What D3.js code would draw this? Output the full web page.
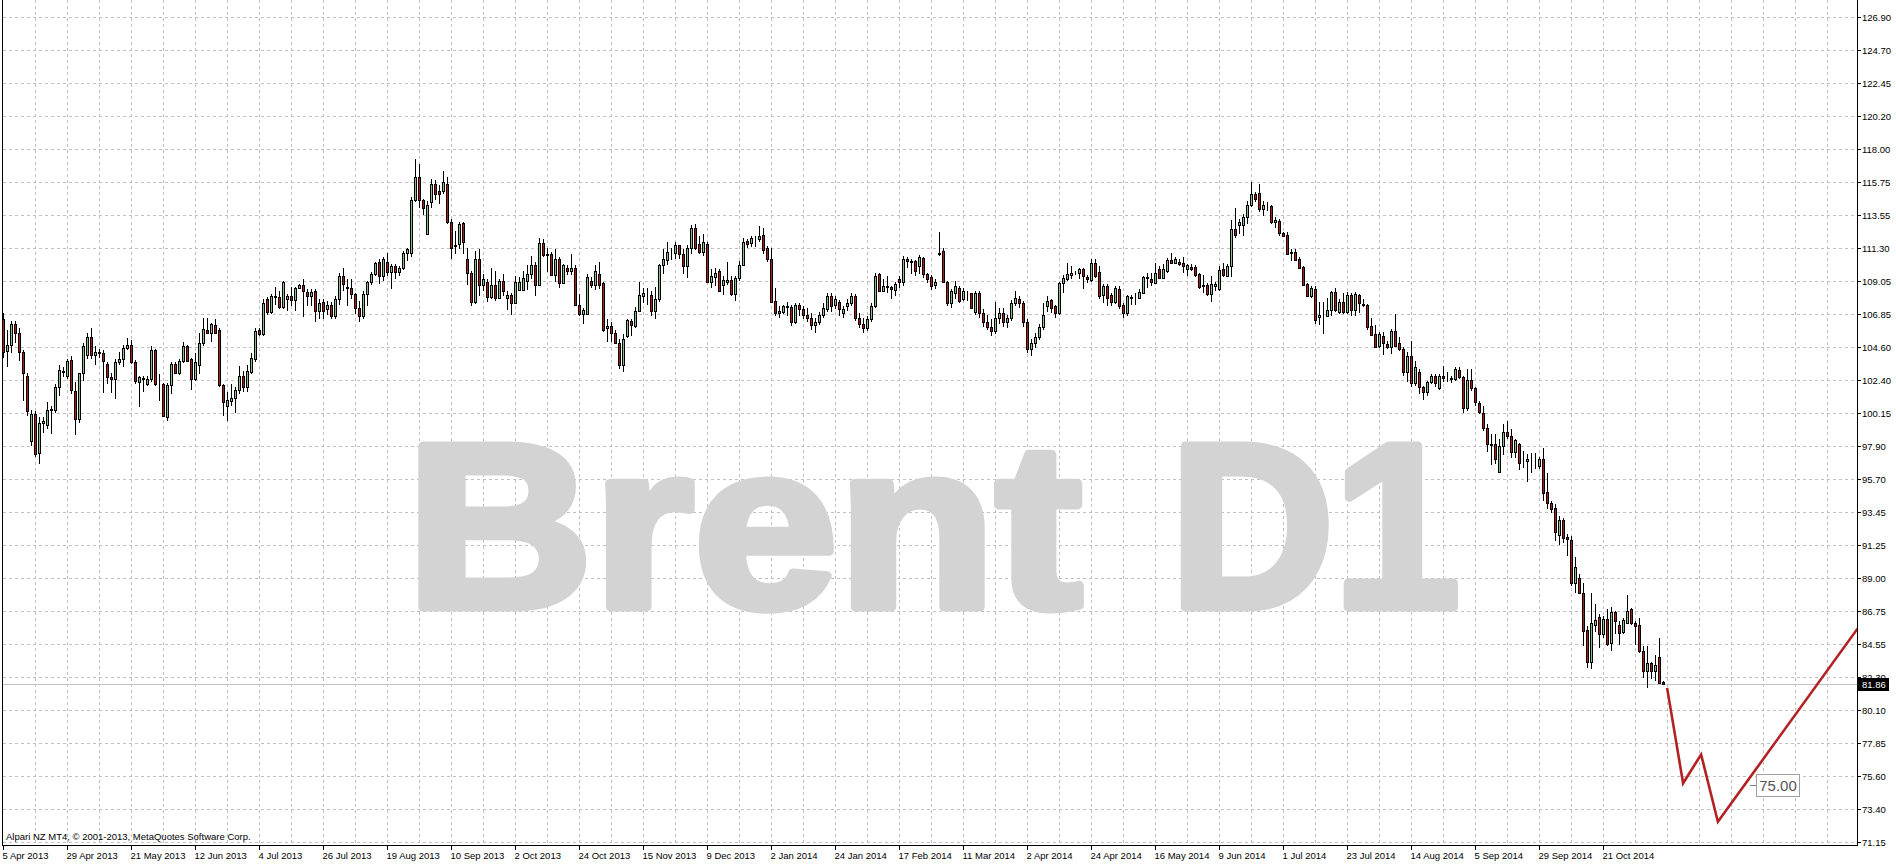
<!DOCTYPE html>
<html>
<head>
<meta charset="utf-8">
<script src="https://cdn.jsdelivr.net/npm/d3@7"></script>
<style>
html, body { margin: 0; padding: 0; background: #fff; overflow: hidden; }
svg { display: block; }
</style>
</head>
<body>
<svg id="chart" width="1896" height="864"></svg>
<script>
// date labels on the time axis, one every 16 bars
var tickLabels = ["5 Apr 2013", "29 Apr 2013", "21 May 2013", "12 Jun 2013", "4 Jul 2013", "26 Jul 2013",
	"19 Aug 2013", "10 Sep 2013", "2 Oct 2013", "24 Oct 2013", "15 Nov 2013", "9 Dec 2013", "2 Jan 2014",
	"24 Jan 2014", "17 Feb 2014", "11 Mar 2014", "2 Apr 2014", "24 Apr 2014", "16 May 2014", "9 Jun 2014",
	"1 Jul 2014", "23 Jul 2014", "14 Aug 2014", "5 Sep 2014", "29 Sep 2014", "21 Oct 2014"];
var barsPerLabel = 16;

// price scale labels
var priceTicks = [126.90, 124.70, 122.45, 120.20, 118.00, 115.75, 113.55, 111.30, 109.05, 106.85, 104.60,
	102.40, 100.15, 97.90, 95.70, 93.45, 91.25, 89.00, 86.75, 84.55, 82.30, 80.10, 77.85, 75.60, 73.40, 71.15];

// daily Brent candles
var openP = [
	106.5,104.37,104.75,106.2,105.6,104.3,102.7,98.3,100.1,97.45,
	99.5,99.35,100.35,100.4,101.9,103.0,102.7,103.75,101.65,99.8,
	102.85,104.1,105.3,104.1,104.2,104.2,103.5,102.6,102.5,103.6,
	103.8,104.6,104.75,103.6,102.3,102.55,102.1,102.5,104.4,102.15,
	102.1,99.9,102.05,103.5,102.9,103.7,104.7,103.8,102.5,103.4,
	104.9,105.75,105.55,106.1,105.8,102.05,100.65,101.0,101.2,101.75,
	102.7,101.95,102.95,103.85,105.8,105.5,107.88,107.02,108.0,107.98,
	107.36,107.9,108.05,107.8,108.6,108.8,108.35,108.1,108.4,107.1,
	107.65,107.2,107.5,106.75,107.88,109.4,108.7,108.6,108.2,107.3,
	106.75,108.2,109.0,109.55,110.35,109.4,110.35,109.7,110.1,109.7,
	109.95,111.0,111.0,114.6,116.15,114.55,112.25,114.4,115.65,115.15,
	115.15,115.65,113.1,111.45,111.6,113.0,110.6,109.65,107.7,110.6,
	108.8,109.0,108.0,108.8,107.95,109.1,107.95,108.15,107.6,108.5,
	108.5,109.1,109.55,110.15,108.85,111.65,110.9,110.9,109.5,110.55,
	108.95,109.95,109.75,110.0,107.5,106.85,106.85,109.1,108.8,109.6,
	108.95,105.9,106.05,105.55,104.9,103.45,105.4,106.4,106.05,107.05,
	108.1,108.2,108.15,107.05,107.85,110.2,110.5,111.0,111.0,111.5,
	110.9,110.1,111.35,112.65,111.6,111.05,111.6,109.0,109.35,109.75,
	108.85,109.0,109.15,108.2,109.3,110.2,111.8,111.65,111.95,111.95,
	112.2,111.3,110.6,107.75,106.95,107.0,107.35,107.35,106.35,107.5,
	107.2,106.8,106.6,106.1,106.3,106.8,107.2,108.1,107.45,107.7,
	106.9,107.4,107.6,108.1,106.6,106.2,105.9,106.5,107.4,109.6,
	108.42,108.7,108.7,108.5,109.25,109.0,110.6,110.45,110.45,110.1,
	110.67,109.55,109.38,108.83,110.9,111.15,109.03,107.63,108.3,108.65,
	107.86,108.24,108.26,107.0,108.31,106.9,106.3,106.0,105.7,106.6,
	106.9,106.3,106.6,107.6,107.86,107.6,106.3,104.5,104.9,105.3,
	106.0,107.4,107.8,107.4,106.9,108.94,109.25,109.52,109.66,109.66,
	109.88,109.38,109.16,110.33,109.7,108.13,108.76,108.13,107.68,108.53,
	107.45,106.9,107.97,108.0,107.97,108.31,109.32,109.25,108.98,109.88,
	109.32,109.77,110.51,110.33,110.4,110.33,109.93,110.06,110.06,109.55,
	108.8,108.82,108.21,108.73,108.55,109.9,109.45,110.08,112.61,112.9,
	112.9,113.44,114.23,114.97,115.04,113.96,114.2,114.18,113.06,113.17,
	112.31,112.2,111.03,111.03,110.58,110.06,108.89,108.1,108.55,106.64,
	106.75,106.71,107.16,108.33,106.97,107.7,107.0,108.17,107.16,108.17,
	107.54,107.49,106.03,105.51,104.68,105.4,104.83,104.61,105.74,104.9,
	104.5,102.92,104.0,102.18,102.92,101.9,101.57,102.24,102.65,101.84,
	102.65,102.56,102.56,102.47,103.1,102.58,100.49,102.43,101.84,100.85,
	100.2,99.18,98.1,98.1,96.18,97.94,98.91,98.62,97.54,98.05,
	96.9,96.9,97.0,97.03,96.59,97.09,94.83,94.11,93.78,91.92,
	92.92,91.79,91.57,88.71,89.04,88.03,85.5,83.34,85.85,86.41,
	85.21,86.27,84.6,86.72,85.82,85.37,86.0,86.9,86.0,85.82,
	84.08,82.73,83.25,82.73,83.68,82.0];
var highP = [
	106.9,105.8,106.4,106.4,105.9,104.4,102.9,100.4,100.3,99.9,
	99.9,100.9,100.65,102.1,103.45,103.25,103.85,104.0,102.3,102.9,
	104.9,105.6,105.9,104.7,104.5,104.4,103.6,102.9,103.8,104.3,
	104.8,105.25,105.1,103.75,102.7,102.7,102.7,104.7,104.5,102.8,
	102.2,102.2,103.6,103.6,103.8,105.0,104.8,103.9,104.2,105.6,
	106.6,106.6,106.25,106.5,105.9,102.1,101.6,102.1,101.9,103.35,
	103.0,103.45,104.25,105.95,105.95,107.9,108.03,108.2,108.7,108.4,
	109.1,108.2,108.7,108.7,108.9,109.2,108.55,108.55,108.55,107.9,
	107.85,107.75,107.65,108.1,109.65,110.0,109.2,109.2,108.3,107.75,
	108.4,109.1,109.7,110.4,110.6,110.7,111.0,110.25,110.25,110.1,
	111.15,111.35,114.75,117.35,117.0,114.65,114.5,116.0,115.95,115.55,
	116.5,116.1,113.3,112.5,113.05,113.05,111.35,109.8,111.15,111.25,
	109.6,109.25,110.0,109.8,109.25,109.55,108.45,108.3,109.45,109.35,
	109.8,110.2,110.8,110.35,112.0,111.95,111.3,111.05,111.25,110.7,
	110.25,110.15,110.9,110.15,108.2,107.3,109.6,109.35,110.2,110.35,
	109.05,106.5,106.35,105.8,105.15,105.5,106.5,106.55,107.35,109.0,
	108.65,108.6,108.45,108.7,110.25,111.25,111.7,111.35,111.7,111.55,
	111.25,111.55,112.85,112.95,112.15,112.25,111.75,109.9,110.0,109.9,
	109.45,110.35,109.45,109.45,110.45,112.0,111.95,112.15,112.15,112.8,
	112.65,111.45,111.35,108.6,107.4,107.45,107.65,107.5,107.6,107.6,
	107.4,107.3,106.9,106.6,107.0,107.6,108.3,108.3,108.1,107.8,
	107.4,107.9,108.3,108.2,106.9,106.6,106.7,107.6,109.65,109.65,
	109.2,109.45,108.75,109.0,109.4,110.75,110.74,110.56,110.5,110.83,
	110.74,109.66,109.48,109.2,112.4,111.3,109.1,108.53,109.1,108.76,
	108.65,108.42,108.31,108.4,108.4,107.2,106.8,106.5,107.7,107.3,
	107.3,106.8,107.8,108.45,108.1,107.75,106.5,105.2,105.6,106.2,
	107.6,108.1,107.9,107.5,109.0,109.48,110.3,110.1,109.8,109.99,
	109.99,109.48,110.6,110.56,110.1,108.87,108.87,108.31,108.76,108.76,
	107.63,108.13,108.13,108.3,108.53,109.43,109.66,109.66,110.28,110.1,
	110.22,110.67,110.96,110.74,110.6,110.74,110.22,110.22,110.15,109.66,
	109.5,108.98,109.45,109.0,110.13,110.31,110.24,113.24,114.0,113.28,
	113.62,114.52,115.76,115.13,115.65,114.52,114.45,114.23,113.4,113.28,
	112.43,112.38,111.25,111.25,110.69,110.13,108.93,108.78,108.78,107.65,
	107.7,107.92,108.44,108.6,107.88,108.28,108.33,108.26,108.33,108.21,
	107.88,107.54,106.57,106.12,105.67,105.62,105.06,105.85,106.86,105.28,
	104.61,104.27,105.06,103.71,103.14,102.02,102.36,102.81,102.81,102.81,
	103.37,102.92,102.7,103.26,103.26,102.65,103.14,103.14,101.9,101.0,
	100.64,99.41,98.73,98.73,98.39,99.41,99.63,99.07,98.39,98.17,
	97.6,97.38,97.49,97.45,97.22,97.83,96.14,94.22,94.0,93.21,
	93.1,91.97,91.86,90.44,89.27,88.71,85.78,87.98,87.3,86.56,
	86.45,86.95,87.08,86.79,86.11,86.34,87.9,87.0,86.11,86.34,
	84.42,84.42,83.34,83.79,84.98,82.06];
var lowP = [
	103.9,103.3,104.25,104.9,103.7,101.0,100.0,97.95,97.2,96.7,
	98.85,99.1,98.75,100.2,101.3,102.6,102.45,101.45,98.7,99.5,
	102.35,103.85,103.85,103.4,103.9,101.5,102.1,101.5,101.15,103.45,
	103.3,104.45,103.5,102.1,100.6,101.6,102.0,102.3,102.0,101.0,
	99.9,99.6,101.45,102.8,102.75,103.55,103.6,101.7,102.35,102.8,
	104.7,105.55,105.0,105.5,101.95,100.0,99.6,100.65,100.15,101.45,
	101.6,101.6,102.8,103.65,105.35,105.35,106.8,106.85,107.45,107.2,
	107.2,107.1,107.4,107.1,108.55,106.65,107.4,107.4,106.3,106.5,
	106.5,106.8,106.5,106.5,107.45,108.45,107.4,107.9,106.85,106.3,
	106.5,107.4,108.8,109.4,108.9,109.1,109.4,108.55,109.2,109.4,
	109.85,110.45,110.7,114.4,114.05,113.55,112.2,114.05,114.6,114.3,
	115.0,112.95,110.55,110.9,111.25,110.9,108.8,107.4,107.55,108.1,
	108.45,107.65,107.9,107.75,107.9,108.05,107.15,106.8,107.55,108.4,
	108.4,108.5,109.25,108.1,108.8,110.7,109.7,109.4,109.0,108.65,
	108.9,109.5,109.5,107.45,106.7,106.2,106.85,108.65,108.5,108.55,
	105.65,105.0,105.0,104.85,103.15,102.95,105.25,105.4,105.9,107.0,
	107.6,107.45,106.75,106.55,107.7,109.55,110.2,110.5,110.55,110.6,
	109.55,109.3,110.95,111.2,110.9,110.75,108.95,108.6,108.75,108.45,
	108.15,108.85,108.05,107.75,109.1,110.1,111.3,111.4,111.4,111.75,
	110.9,110.4,107.6,106.75,106.6,106.85,106.75,106.05,106.2,106.7,
	106.5,106.3,105.8,105.6,106.1,106.6,107.0,107.0,107.2,106.7,
	106.6,107.1,107.4,106.4,105.9,105.6,105.7,106.3,107.3,108.4,
	108.4,108.3,107.85,108.1,108.6,108.75,110.0,109.55,109.43,109.55,
	109.32,108.98,108.48,108.58,110.8,108.98,107.4,107.3,107.9,107.63,
	107.74,107.74,107.18,106.8,106.6,106.0,105.8,105.4,105.5,106.2,
	106.0,105.9,106.4,107.4,107.3,106.0,104.2,104.0,104.6,105.1,
	105.8,107.0,106.9,106.6,106.8,108.3,109.1,109.2,109.5,109.2,
	108.53,108.98,109.03,109.32,107.86,107.63,107.41,107.41,107.52,107.18,
	106.6,106.7,107.5,107.5,107.86,108.26,108.65,108.76,108.87,109.2,
	109.2,109.66,110.22,110.22,110.1,109.66,109.43,109.77,109.38,108.58,
	108.28,108.06,107.65,108.44,108.44,109.34,109.34,109.34,112.0,112.27,
	112.11,112.94,114.07,114.41,113.73,113.46,113.85,112.94,112.65,112.16,
	112.04,110.85,110.47,110.47,109.9,108.78,108.06,107.92,106.19,106.12,
	105.51,106.64,106.75,107.02,106.86,106.86,106.86,106.75,106.71,106.93,
	107.31,105.8,105.4,104.54,104.54,104.09,104.5,104.16,104.61,104.38,
	102.65,102.24,101.9,102.02,101.45,101.07,101.34,102.13,101.9,101.75,
	102.29,102.29,102.2,102.36,102.47,100.17,100.33,101.68,100.67,100.1,
	98.96,97.54,96.64,96.7,96.09,97.31,98.39,97.16,97.16,96.32,
	96.48,95.51,96.14,96.37,96.41,94.22,93.71,93.44,91.52,91.23,
	91.41,90.51,88.49,88.03,87.92,84.42,82.96,82.9,85.37,84.31,
	85.0,84.42,84.08,85.21,84.49,85.21,85.89,85.82,84.49,83.97,
	82.28,81.57,82.17,82.06,81.84,81.8];
var closeP = [
	104.3,104.75,106.2,105.6,104.3,102.9,100.3,100.1,97.4,99.5,
	99.6,100.4,100.45,101.9,103.05,102.95,103.7,101.7,99.8,102.85,
	104.7,105.3,104.1,104.3,104.3,103.7,102.6,102.5,103.6,103.8,
	104.6,104.75,103.6,102.35,102.6,102.5,102.5,104.4,102.1,102.1,
	100.0,102.05,103.5,102.9,103.7,104.7,103.7,102.5,103.6,104.9,
	105.85,105.6,106.2,105.55,102.05,100.9,101.05,101.2,101.75,102.65,
	101.95,103.0,103.9,105.7,105.5,107.6,107.02,108.05,108.05,107.36,
	109.0,108.05,107.8,108.6,108.8,108.45,108.1,108.35,107.1,107.6,
	107.1,107.5,106.75,107.88,109.4,108.9,108.6,108.2,107.3,106.75,
	108.2,109.0,109.55,110.3,109.4,110.55,109.7,110.1,109.7,109.95,
	111.0,111.25,114.6,116.15,114.55,114.0,114.25,115.65,115.0,115.0,
	115.8,113.1,111.35,111.55,112.95,111.7,109.65,107.7,110.6,108.8,
	109.25,108.0,108.8,107.95,109.1,108.4,108.15,107.6,109.0,109.05,
	109.3,109.55,110.15,108.85,111.65,110.85,110.85,109.5,110.6,108.95,
	110.15,109.75,110.0,107.5,106.85,107.15,109.35,108.85,109.8,108.85,
	105.8,106.05,105.55,104.9,103.45,105.2,106.45,106.1,107.05,108.15,
	108.3,108.2,107.05,107.9,110.2,110.6,111.05,110.98,111.5,110.9,
	110.1,111.35,112.65,111.35,111.05,111.7,109.0,109.45,109.65,108.45,
	109.15,109.15,108.2,109.3,110.2,111.7,111.6,112.0,111.95,112.15,
	111.2,110.6,107.7,106.95,107.05,107.4,107.4,106.35,107.5,107.2,
	106.8,106.6,106.1,106.3,106.8,107.3,108.1,107.4,107.9,107.2,
	107.2,107.6,108.1,106.6,106.2,105.9,106.5,107.4,109.4,108.42,
	108.75,108.75,108.55,108.9,109.03,110.6,110.45,110.38,109.77,110.74,
	109.55,109.25,108.75,109.05,111.0,109.03,107.63,108.42,108.76,107.74,
	108.42,108.19,107.3,108.26,106.9,106.3,106.0,105.7,106.6,106.9,
	106.3,106.6,107.6,107.97,107.58,106.3,104.5,104.9,105.3,106.0,
	106.8,107.75,107.3,106.9,108.94,109.32,109.55,109.66,109.66,109.88,
	109.43,109.2,110.33,109.43,108.08,108.76,107.97,107.68,108.6,107.41,
	106.9,108.08,108.03,108.01,108.35,109.38,109.38,109.03,109.66,109.32,
	109.93,110.51,110.29,110.56,110.27,110.1,110.15,109.93,109.48,108.71,
	108.78,108.21,108.89,108.89,109.84,109.5,110.08,112.61,112.22,113.06,
	113.4,114.23,114.97,114.63,113.96,114.23,114.23,113.06,113.21,112.31,
	112.16,110.92,110.96,110.53,109.97,108.84,108.1,108.62,106.48,106.8,
	106.71,107.16,108.33,107.16,107.7,107.0,108.17,107.16,108.19,107.58,
	107.47,105.96,105.44,104.61,105.51,104.9,104.61,105.74,104.72,104.5,
	102.92,104.0,102.18,103.26,101.9,101.57,102.24,102.69,102.2,102.65,
	102.52,102.52,102.47,103.14,102.58,100.49,102.43,101.84,100.89,100.22,
	99.18,98.05,98.03,97.09,97.94,98.91,98.62,97.54,98.33,96.82,
	96.91,97.04,97.03,97.0,97.09,94.79,94.11,93.71,92.13,92.92,
	91.75,91.63,88.71,89.79,88.03,85.44,83.34,86.0,86.16,85.21,
	86.27,84.54,86.72,86.11,85.28,86.16,86.79,86.0,85.78,84.08,
	82.73,83.25,82.73,83.12,81.95,81.86];

var lastPrice = 81.86;

// hand drawn forecast line (bar index, price) and its target label
var forecastBars = [415.9, 419.9, 424.4, 428.6, 463.5];
var forecastPrices = [81.6, 75.15, 77.1, 72.55, 85.6];
var targetPrice = 75.00;

var svg = d3.select("#chart");
var plotLeft = 2.5, plotRight = 1857.5, plotBottom = 845.5;

var x = d3.scaleLinear().domain([0, 463.5]).range([3.5, 1857.5]);
var y = d3.scaleLinear().domain([71.15, 126.90]).range([842.5, 17.5]);

function crisp(v) { return Math.round(v - 0.5) + 0.5; }

svg.append("rect").attr("width", 1896).attr("height", 864).attr("fill", "#fff");

svg.append("defs").append("clipPath").attr("id", "plotClip")
	.append("rect").attr("x", 3).attr("y", 0).attr("width", 1854).attr("height", 845);

// grid
var grid = svg.append("g").attr("stroke", "#c0c0c0").attr("stroke-width", 1)
	.attr("stroke-dasharray", "3,3").attr("shape-rendering", "crispEdges");
priceTicks.forEach(function(p) {
	grid.append("line").attr("x1", plotLeft).attr("x2", plotRight)
		.attr("y1", crisp(y(p))).attr("y2", crisp(y(p)));
});
for (var b = 8; x(b) < plotRight - 2; b += 8) {
	grid.append("line").attr("x1", crisp(x(b))).attr("x2", crisp(x(b)))
		.attr("y1", 0).attr("y2", plotBottom);
}

// watermark
var mark = svg.append("g").attr("fill", "#d3d3d3").attr("stroke", "#d3d3d3").attr("stroke-width", 9)
	.attr("stroke-linejoin", "round")
	.style("font-family", "'Liberation Sans', Arial, sans-serif").style("font-weight", "bold")
	.style("font-size", "234px");
mark.append("text").attr("x", 406).attr("y", 607).attr("textLength", 676)
	.attr("lengthAdjust", "spacingAndGlyphs").text("Brent");
mark.append("text").attr("x", 1170).attr("y", 607).attr("textLength", 290)
	.attr("lengthAdjust", "spacingAndGlyphs").text("D1");

// current price line
svg.append("line").attr("x1", plotLeft).attr("x2", plotRight)
	.attr("y1", crisp(y(lastPrice))).attr("y2", crisp(y(lastPrice)))
	.attr("stroke", "#c0c0c0").attr("shape-rendering", "crispEdges");

// candles
var candles = svg.append("g").attr("clip-path", "url(#plotClip)").attr("shape-rendering", "crispEdges");
openP.forEach(function(o, i) {
	var c = closeP[i];
	var cx = x(i);
	candles.append("line").attr("x1", cx).attr("x2", cx)
		.attr("y1", y(highP[i])).attr("y2", y(lowP[i]))
		.attr("stroke", "#000").attr("stroke-width", 1);
	var top = y(Math.max(o, c)), bot = y(Math.min(o, c));
	candles.append("rect").attr("x", cx - 1).attr("width", 2)
		.attr("y", Math.round(top) + 0.5).attr("height", Math.max(0, Math.round(bot) - Math.round(top)))
		.attr("fill", c >= o ? "#8fbc8f" : "#a81c1c")
		.attr("stroke", "#000").attr("stroke-width", 1);
});

// forecast line
var fc = forecastBars.map(function(b, i) { return [b, forecastPrices[i]]; });
svg.append("path").attr("clip-path", "url(#plotClip)")
	.attr("d", d3.line().x(function(d) { return x(d[0]); }).y(function(d) { return y(d[1]); })(fc))
	.attr("fill", "none").attr("stroke", "#b22222").attr("stroke-width", 2.6)
	.attr("stroke-linejoin", "miter");

// target label
var ty = crisp(y(targetPrice));
svg.append("line").attr("x1", 1750).attr("x2", 1756).attr("y1", ty).attr("y2", ty)
	.attr("stroke", "#808080").attr("shape-rendering", "crispEdges");
svg.append("rect").attr("x", 1756.5).attr("y", ty - 11).attr("width", 43).attr("height", 22)
	.attr("fill", "#fff").attr("stroke", "#a0a0a0").attr("shape-rendering", "crispEdges");
svg.append("text").attr("x", 1778).attr("y", ty).attr("dy", "0.36em").attr("text-anchor", "middle")
	.style("font-family", "'Liberation Sans', Arial, sans-serif").style("font-size", "15px")
	.attr("fill", "#555").text(targetPrice.toFixed(2));

// frame
var frame = svg.append("g").attr("stroke", "#000").attr("stroke-width", 1).attr("shape-rendering", "crispEdges");
frame.append("line").attr("x1", plotLeft).attr("x2", plotLeft).attr("y1", 0).attr("y2", plotBottom);
frame.append("line").attr("x1", plotRight).attr("x2", plotRight).attr("y1", 0).attr("y2", plotBottom);
frame.append("line").attr("x1", plotLeft).attr("x2", plotRight).attr("y1", plotBottom).attr("y2", plotBottom);

// price axis
var axisFont = "'Liberation Sans', Arial, sans-serif";
priceTicks.forEach(function(p) {
	var py = crisp(y(p));
	frame.append("line").attr("x1", plotRight).attr("x2", plotRight + 3).attr("y1", py).attr("y2", py);
	svg.append("text").attr("x", 1862).attr("y", py).attr("dy", "0.35em")
		.style("font-family", axisFont).style("font-size", "9.5px").attr("fill", "#000")
		.text(p.toFixed(2));
});
var ly = crisp(y(lastPrice));
svg.append("rect").attr("x", 1858).attr("y", ly - 6.5).attr("width", 31).attr("height", 13).attr("fill", "#000");
svg.append("text").attr("x", 1862).attr("y", ly).attr("dy", "0.35em")
	.style("font-family", axisFont).style("font-size", "9.5px").attr("fill", "#fff")
	.text(lastPrice.toFixed(2));

// time axis
tickLabels.forEach(function(t, i) {
	var tx = crisp(x(i * barsPerLabel));
	frame.append("line").attr("x1", tx).attr("x2", tx).attr("y1", plotBottom).attr("y2", plotBottom + 4);
	svg.append("text").attr("x", tx - 1).attr("y", 859)
		.style("font-family", axisFont).style("font-size", "9.5px").attr("fill", "#000").text(t);
});

svg.append("text").attr("x", 6).attr("y", 840)
	.style("font-family", axisFont).style("font-size", "9.5px").attr("fill", "#000")
	.text("Alpari NZ MT4, \u00a9 2001-2013, MetaQuotes Software Corp.");
</script>
</body>
</html>
